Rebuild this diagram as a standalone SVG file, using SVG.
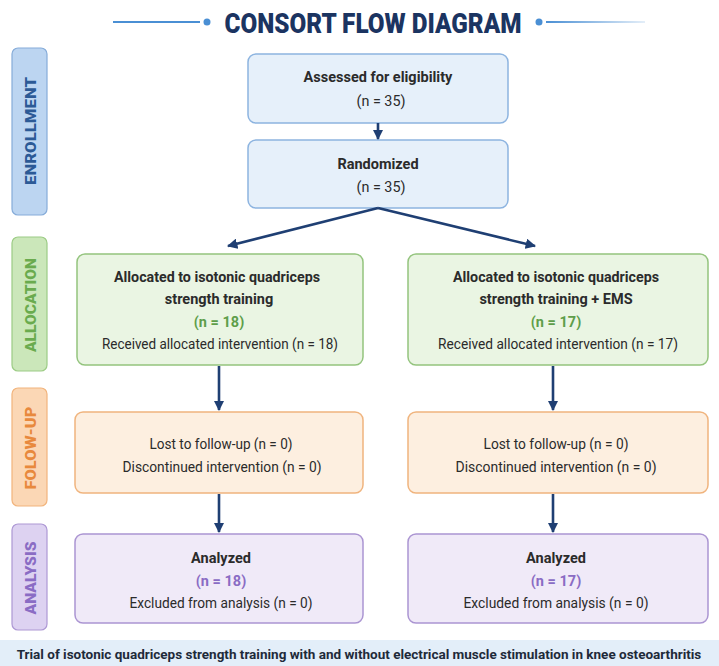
<svg xmlns="http://www.w3.org/2000/svg" width="719" height="666" viewBox="0 0 719 666">
<defs>
<marker id="ah" viewBox="0 0 10 10" refX="9" refY="5" markerWidth="4" markerHeight="4" orient="auto" markerUnits="strokeWidth">
<path d="M0,0 L10,5 L0,10 z" fill="#1f3f73"/>
</marker>
<linearGradient id="rl" gradientUnits="userSpaceOnUse" x1="546" y1="0" x2="645" y2="0">
<stop offset="0" stop-color="#4a8fd4"/>
<stop offset="1" stop-color="#4a8fd4" stop-opacity="0.15"/>
</linearGradient>
</defs>
<style>
text{font-family:Roboto,"Liberation Sans",sans-serif;text-anchor:middle;fill:#2b2b2b;font-size:15px}
.b{font-weight:700;font-size:14.5px}
.side{font-weight:900;font-size:15.5px}
.blue rect{fill:#e6f0fa;stroke:#8db4e0;stroke-width:1.5}
.green rect{fill:#eaf5e3;stroke:#94c47e;stroke-width:1.5}
.orange rect{fill:#fdefe0;stroke:#f0b47e;stroke-width:1.5}
.purple rect{fill:#f0eaf8;stroke:#ab95d2;stroke-width:1.5}
.gn{fill:#5e9e4a}
.pn{fill:#8a6cc4}
.conn line{stroke:#1f3f73;stroke-width:2.6;fill:none;marker-end:url(#ah)}
</style>
<rect width="719" height="666" fill="#ffffff"/>
<g id="title">
<line x1="113" y1="22" x2="200" y2="22" stroke="#4a8fd4" stroke-width="2"/>
<circle cx="207" cy="22" r="3.5" fill="#4a8fd4"/>
<circle cx="539" cy="22" r="3.5" fill="#4a8fd4"/>
<rect x="546" y="21" width="99" height="2" fill="url(#rl)"/>
<text x="373" y="33" style="font-weight:900;font-size:27px;fill:#1b3461" textLength="297" lengthAdjust="spacingAndGlyphs">CONSORT FLOW DIAGRAM</text>
</g>
<g id="label-enrollment">
<rect x="12" y="48" width="35" height="167" rx="6" fill="#bcd5f1" stroke="#86acd9" stroke-width="1.2"/>
<text class="side" transform="translate(35.5,131) rotate(-90)" style="fill:#2c5a96" textLength="108" lengthAdjust="spacingAndGlyphs">ENROLLMENT</text>
</g>
<g id="label-allocation">
<rect x="12" y="237" width="35" height="134" rx="6" fill="#cbe7ba" stroke="#9ccc85" stroke-width="1.2"/>
<text class="side" transform="translate(35.5,305) rotate(-90)" style="fill:#6aab4e" textLength="94" lengthAdjust="spacingAndGlyphs">ALLOCATION</text>
</g>
<g id="label-followup">
<rect x="12" y="388" width="35" height="118" rx="6" fill="#fbd7b5" stroke="#f2b47c" stroke-width="1.2"/>
<text class="side" transform="translate(35.5,448) rotate(-90)" style="fill:#e8893d" textLength="83" lengthAdjust="spacingAndGlyphs">FOLOW-UP</text>
</g>
<g id="label-analysis">
<rect x="12" y="524" width="35" height="106" rx="6" fill="#ddd2f1" stroke="#ad98d4" stroke-width="1.2"/>
<text class="side" transform="translate(35.5,578) rotate(-90)" style="fill:#8a6cc4" textLength="73" lengthAdjust="spacingAndGlyphs">ANALYSIS</text>
</g>
<g id="assessed" class="blue">
<rect x="248" y="54" width="260" height="69" rx="8"/>
<text class="b" x="378" y="82">Assessed for eligibility</text>
<text x="381" y="106" textLength="49" lengthAdjust="spacingAndGlyphs">(n = 35)</text>
</g>
<g id="randomized" class="blue">
<rect x="248" y="140" width="260" height="68" rx="8"/>
<text class="b" x="378" y="169">Randomized</text>
<text x="381" y="192" textLength="49" lengthAdjust="spacingAndGlyphs">(n = 35)</text>
</g>
<g id="alloc-left" class="green">
<rect x="77" y="254" width="286" height="111" rx="8"/>
<text class="b" x="217" y="282" textLength="206" lengthAdjust="spacingAndGlyphs">Allocated to isotonic quadriceps</text>
<text class="b" x="219" y="304">strength training</text>
<text class="b gn" x="219" y="327">(n = 18)</text>
<text x="220" y="349" textLength="236" lengthAdjust="spacingAndGlyphs">Received allocated intervention (n = 18)</text>
</g>
<g id="alloc-right" class="green">
<rect x="408" y="254" width="300" height="111" rx="8"/>
<text class="b" x="556" y="282" textLength="206" lengthAdjust="spacingAndGlyphs">Allocated to isotonic quadriceps</text>
<text class="b" x="556" y="304">strength training + EMS</text>
<text class="b gn" x="556" y="327">(n = 17)</text>
<text x="558" y="349" textLength="240" lengthAdjust="spacingAndGlyphs">Received allocated intervention (n = 17)</text>
</g>
<g id="follow-left" class="orange">
<rect x="75" y="412" width="288" height="81" rx="8"/>
<text x="221" y="449" textLength="143" lengthAdjust="spacingAndGlyphs">Lost to follow-up (n = 0)</text>
<text x="222" y="472" textLength="199" lengthAdjust="spacingAndGlyphs">Discontinued intervention (n = 0)</text>
</g>
<g id="follow-right" class="orange">
<rect x="408" y="412" width="300" height="81" rx="8"/>
<text x="556" y="449" textLength="145" lengthAdjust="spacingAndGlyphs">Lost to follow-up (n = 0)</text>
<text x="556" y="472" textLength="201" lengthAdjust="spacingAndGlyphs">Discontinued intervention (n = 0)</text>
</g>
<g id="analysis-left" class="purple">
<rect x="75" y="534" width="288" height="89" rx="8"/>
<text class="b" x="221" y="563">Analyzed</text>
<text class="b pn" x="221" y="586">(n = 18)</text>
<text x="221" y="608" textLength="183" lengthAdjust="spacingAndGlyphs">Excluded from analysis (n = 0)</text>
</g>
<g id="analysis-right" class="purple">
<rect x="408" y="534" width="300" height="89" rx="8"/>
<text class="b" x="556" y="563">Analyzed</text>
<text class="b pn" x="556" y="586">(n = 17)</text>
<text x="556" y="608" textLength="185" lengthAdjust="spacingAndGlyphs">Excluded from analysis (n = 0)</text>
</g>
<g id="connectors" class="conn">
<line x1="378" y1="123" x2="378" y2="139"/>
<line x1="378" y1="208" x2="228" y2="246"/>
<line x1="378" y1="208" x2="535" y2="246"/>
<line x1="219" y1="366" x2="219" y2="410"/>
<line x1="553" y1="366" x2="553" y2="410"/>
<line x1="219" y1="494" x2="219" y2="532"/>
<line x1="553" y1="494" x2="553" y2="532"/>
</g>
<g id="footer">
<rect x="0" y="640" width="719" height="26" fill="#e3eef9"/>
<text class="b" x="359" y="659" style="font-size:13.5px;fill:#1e2a3a">Trial of isotonic quadriceps strength training with and without electrical muscle stimulation in knee osteoarthritis</text>
</g>
</svg>
